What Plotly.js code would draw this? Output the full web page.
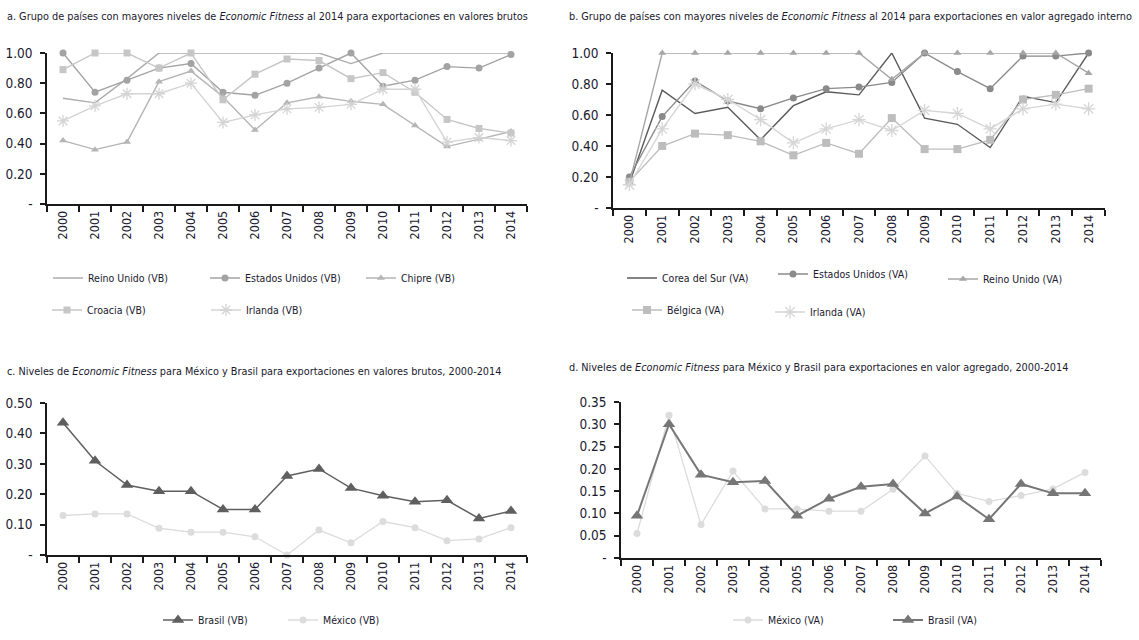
<!DOCTYPE html>
<html><head><meta charset="utf-8">
<script src="https://cdn.plot.ly/plotly-3.0.1.min.js"></script>
<style>body{margin:0;background:#fff}</style>
</head><body><div id="chart" style="width:1139px;height:640px"></div>
<script>
const years = ['2000','2001','2002','2003','2004','2005','2006','2007','2008','2009','2010','2011','2012','2013','2014'];

// Panel a – valores brutos
const a_reinoUnido    = [0.70,0.67,0.83,1.00,1.00,1.00,1.00,1.00,1.00,0.93,1.00,1.00,1.00,1.00,1.00];
const a_estadosUnidos = [1.00,0.74,0.82,0.90,0.93,0.74,0.72,0.80,0.90,1.00,0.78,0.82,0.91,0.90,0.99];
const a_chipre        = [0.42,0.36,0.41,0.81,0.88,0.71,0.49,0.67,0.71,0.68,0.66,0.52,0.38,0.43,0.48];
const a_croacia       = [0.89,1.00,1.00,0.90,1.00,0.69,0.86,0.96,0.95,0.83,0.87,0.74,0.56,0.50,0.47];
const a_irlanda       = [0.55,0.65,0.73,0.73,0.80,0.54,0.59,0.63,0.64,0.66,0.76,0.76,0.41,0.44,0.42];

// Panel b – valor agregado interno
const b_corea         = [0.16,0.76,0.61,0.65,0.44,0.66,0.75,0.73,1.00,0.58,0.54,0.39,0.72,0.68,1.00];
const b_estadosUnidos = [0.20,0.59,0.82,0.69,0.64,0.71,0.77,0.78,0.81,1.00,0.88,0.77,0.98,0.98,1.00];
const b_reinoUnido    = [0.16,1.00,1.00,1.00,1.00,1.00,1.00,1.00,0.83,1.00,1.00,1.00,1.00,1.00,0.87];
const b_belgica       = [0.17,0.40,0.48,0.47,0.43,0.34,0.42,0.35,0.58,0.38,0.38,0.44,0.70,0.73,0.77];
const b_irlanda       = [0.15,0.51,0.80,0.70,0.57,0.42,0.51,0.57,0.50,0.63,0.61,0.51,0.64,0.67,0.64];

// Panel c – México y Brasil, valores brutos
const c_brasil = [0.435,0.31,0.23,0.21,0.21,0.15,0.15,0.26,0.283,0.22,0.195,0.175,0.18,0.12,0.145];
const c_mexico = [0.13,0.135,0.135,0.088,0.075,0.075,0.06,0.0,0.082,0.04,0.11,0.09,0.047,0.053,0.09];

// Panel d – México y Brasil, valor agregado
const d_mexico = [0.055,0.32,0.075,0.195,0.11,0.11,0.105,0.105,0.154,0.229,0.145,0.127,0.14,0.155,0.192];
const d_brasil = [0.095,0.30,0.187,0.17,0.173,0.095,0.133,0.16,0.166,0.10,0.138,0.087,0.166,0.145,0.145];

const ticks10 = [0,0.2,0.4,0.6,0.8,1.0];
const ticks10Text = ['-','0.20','0.40','0.60','0.80','1.00'];
const ticksC = [0,0.1,0.2,0.3,0.4,0.5];
const ticksCText = ['-','0.10','0.20','0.30','0.40','0.50'];
const ticksD = [0,0.05,0.10,0.15,0.20,0.25,0.30,0.35];
const ticksDText = ['-','0.05','0.10','0.15','0.20','0.25','0.30','0.35'];

const FONT = 'Liberation Sans Narrow, Arial Narrow, DejaVu Sans Condensed, sans-serif';
const TXT = '#1a1a2e';
const W = 1139, H = 640;
const px = v => v / W, py = v => 1 - v / H;

function tr(y, name, xa, ya, leg, color, opts) {
  const t = {x: years, y: y, name: name, xaxis: xa, yaxis: ya, legend: leg,
    type: 'scatter', cliponaxis: false, mode: opts.symbol ? 'lines+markers' : 'lines',
    line: {color: opts.lineColor || color, width: opts.lw || 1.4},
    hoverinfo: 'x+y+name'};
  if (opts.symbol) t.marker = {symbol: opts.symbol, size: opts.size || 7, color: color,
    line: {color: color, width: opts.mlw || 0}};
  return t;
}

const data = [
  tr(a_reinoUnido, 'Reino Unido (VB)', 'x', 'y', 'legend', '#ababab', {}),
  tr(a_estadosUnidos, 'Estados Unidos (VB)', 'x', 'y', 'legend2', '#a3a3a3', {symbol: 'circle', size: 7}),
  tr(a_chipre, 'Chipre (VB)', 'x', 'y', 'legend3', '#b5b5b5', {symbol: 'triangle-up', size: 7}),
  tr(a_croacia, 'Croacia (VB)', 'x', 'y', 'legend4', '#c6c6c6', {symbol: 'square', size: 7}),
  tr(a_irlanda, 'Irlanda (VB)', 'x', 'y', 'legend5', '#d4d4d4', {symbol: 'asterisk-open', size: 10, mlw: 1.3}),

  tr(b_corea, 'Corea del Sur (VA)', 'x2', 'y2', 'legend6', '#5a5a5a', {}),
  tr(b_estadosUnidos, 'Estados Unidos (VA)', 'x2', 'y2', 'legend7', '#8a8a8a', {symbol: 'circle', size: 7}),
  tr(b_reinoUnido, 'Reino Unido (VA)', 'x2', 'y2', 'legend8', '#a6a6a6', {symbol: 'triangle-up', size: 7}),
  tr(b_belgica, 'Bélgica (VA)', 'x2', 'y2', 'legend9', '#bdbdbd', {symbol: 'square', size: 8}),
  tr(b_irlanda, 'Irlanda (VA)', 'x2', 'y2', 'legend10', '#d6d6d6', {symbol: 'asterisk-open', size: 11, mlw: 1.3}),

  tr(c_brasil, 'Brasil (VB)', 'x3', 'y3', 'legend11', '#5f5f5f', {symbol: 'triangle-up', size: 11, lw: 1.5}),
  tr(c_mexico, 'México (VB)', 'x3', 'y3', 'legend12', '#dcdcdc', {symbol: 'circle', size: 7, lw: 1.3}),

  tr(d_mexico, 'México (VA)', 'x4', 'y4', 'legend13', '#dcdcdc', {symbol: 'circle', size: 7, lw: 1.3}),
  tr(d_brasil, 'Brasil (VA)', 'x4', 'y4', 'legend14', '#767676', {symbol: 'triangle-up', size: 11, lw: 2})
];

function xAx(x0, x1, anchor) {
  return {domain: [px(x0), px(x1)], anchor: anchor, type: 'category', range: [-0.5, 14.5],
    showgrid: false, zeroline: false, showline: true, linecolor: '#1a1a1a', linewidth: 1.5,
    ticks: 'outside', tickson: 'boundaries', ticklen: 6, tickcolor: '#1a1a1a', tickwidth: 1.5,
    tickangle: -90, tickfont: {family: FONT, size: 12.5, color: TXT}, fixedrange: true};
}
function yAx(y0, y1, anchor, maxv, tv, tt) {
  return {domain: [py(y1), py(y0)], anchor: anchor, range: [0, maxv],
    showgrid: false, zeroline: false, showline: true, linecolor: '#1a1a1a', linewidth: 1.5,
    ticks: 'outside', ticklen: 5, tickcolor: '#1a1a1a', tickwidth: 1.5,
    tickvals: tv, ticktext: tt, ticklabelstandoff: 5,
    tickfont: {family: FONT, size: 13.5, color: TXT}, fixedrange: true};
}

function leg(textX, yc) {
  return {x: px(textX - 42), y: py(yc), xanchor: 'left', yanchor: 'middle',
    orientation: 'h', bgcolor: 'rgba(0,0,0,0)', borderwidth: 0,
    font: {family: FONT, size: 10.5, color: TXT}, itemclick: false, itemdoubleclick: false};
}

function title(text, x, y) {
  return {text: text, x: px(x), y: py(y), xref: 'paper', yref: 'paper', xanchor: 'left', yanchor: 'middle',
    showarrow: false, font: {family: FONT, size: 10.8, color: TXT}};
}

const layout = {
  width: W, height: H, margin: {l: 0, r: 0, t: 0, b: 0},
  paper_bgcolor: '#fff', plot_bgcolor: '#fff', showlegend: true,
  font: {family: FONT, color: TXT},
  xaxis: xAx(47, 527, 'y'), yaxis: yAx(53, 204, 'x', 1.0, ticks10, ticks10Text),
  xaxis2: xAx(613, 1105, 'y2'), yaxis2: yAx(53, 208, 'x2', 1.0, ticks10, ticks10Text),
  xaxis3: xAx(47, 527, 'y3'), yaxis3: yAx(403, 555, 'x3', 0.5, ticksC, ticksCText),
  xaxis4: xAx(621, 1101, 'y4'), yaxis4: yAx(402, 558, 'x4', 0.35, ticksD, ticksDText),
  legend: leg(90, 278), legend2: leg(247, 278), legend3: leg(403, 278),
  legend4: leg(89, 310), legend5: leg(248, 310),
  legend6: leg(664, 278), legend7: leg(815, 274), legend8: leg(985, 279),
  legend9: leg(669, 310), legend10: leg(812, 312),
  legend11: leg(200, 620), legend12: leg(325, 620),
  legend13: leg(770, 620), legend14: leg(930, 620),
  annotations: [
    title('a. Grupo de países con mayores niveles de <i>Economic Fitness</i> al 2014 para exportaciones en valores brutos', 5, 16),
    title('b. Grupo de países con mayores niveles de <i>Economic Fitness</i> al 2014 para exportaciones en valor agregado interno', 567, 16),
    title('c. Niveles de <i>Economic Fitness</i> para México y Brasil para exportaciones en valores brutos, 2000-2014', 5, 371),
    title('d. Niveles de <i>Economic Fitness</i> para México y Brasil para exportaciones en valor agregado, 2000-2014', 567, 367)
  ]
};

Plotly.newPlot('chart', data, layout, {displayModeBar: false, responsive: false});
</script>
</body></html>
